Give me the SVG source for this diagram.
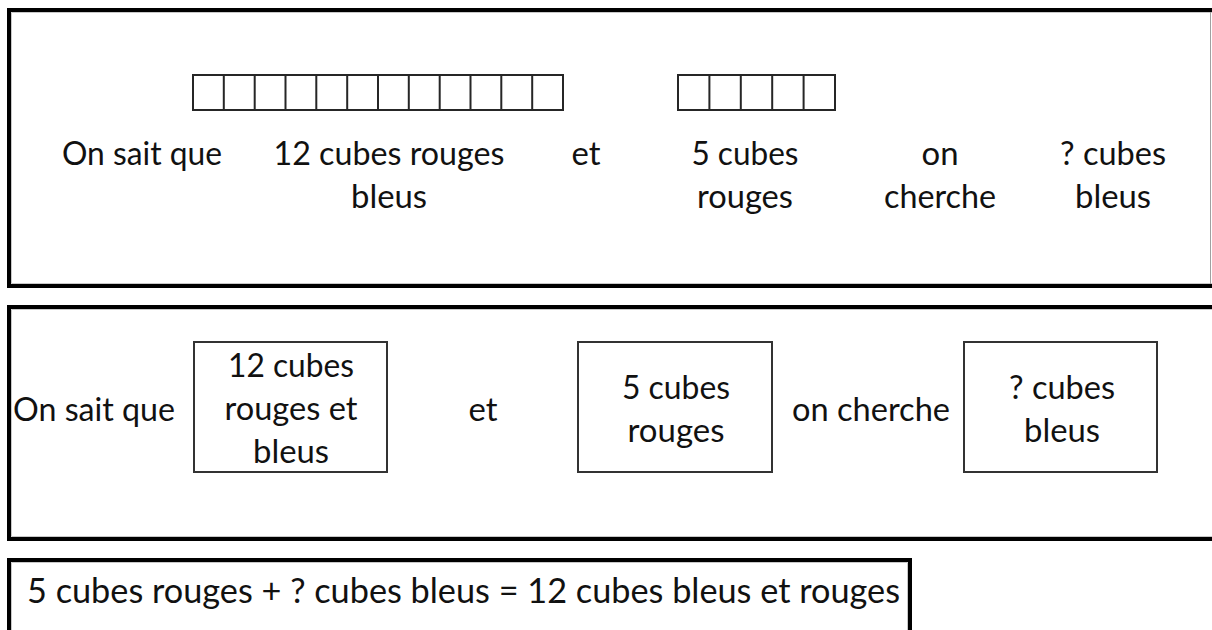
<svg xmlns="http://www.w3.org/2000/svg" width="1212" height="630" viewBox="0 0 1212 630">
  <style>
    .frame { fill: none; stroke: #000; stroke-width: 4; }
    .inner { fill: none; stroke: #c8c8c8; stroke-width: 1; }
    .cell { fill: #fff; stroke: #262626; stroke-width: 2; }
    .box { fill: #fff; stroke: #333; stroke-width: 2; }
    .t { font-family: Lato, "Open Sans", "Liberation Sans", sans-serif; font-size: 32px; fill: #111; }
    .big { font-size: 34px; }
    .m { text-anchor: middle; }
  </style>
  <rect width="1212" height="630" fill="#fff"/>

  <g id="panel1">
    <path class="frame" d="M1212 10 H9 V286 H1212"/>
    <path class="inner" d="M1212 12.5 H11.5 V283.5 H1212"/>
    <line x1="1210.5" y1="12" x2="1210.5" y2="284" stroke="#a0a0a0" stroke-width="1"/>
    <g id="bar12">
      <rect class="cell" x="193" y="75" width="370" height="35"/>
      <path class="cell" d="M223.8 75 V110 M254.7 75 V110 M285.5 75 V110 M316.3 75 V110 M347.2 75 V110 M378 75 V110 M408.8 75 V110 M439.7 75 V110 M470.5 75 V110 M501.3 75 V110 M532.2 75 V110"/>
    </g>
    <g id="bar5">
      <rect class="cell" x="678" y="75" width="157" height="35"/>
      <path class="cell" d="M709.4 75 V110 M740.8 75 V110 M772.2 75 V110 M803.6 75 V110"/>
    </g>
    <g id="p1-onsait"><text class="t" x="62" y="165" textLength="160" lengthAdjust="spacingAndGlyphs">On sait que</text></g>
    <g id="p1-12cubes">
      <text class="t m" x="389" y="165" textLength="231" lengthAdjust="spacingAndGlyphs">12 cubes rouges</text>
      <text class="t m" x="389" y="208" textLength="76" lengthAdjust="spacingAndGlyphs">bleus</text>
    </g>
    <g id="p1-et"><text class="t m" x="586" y="165" textLength="29" lengthAdjust="spacingAndGlyphs">et</text></g>
    <g id="p1-5cubes">
      <text class="t m" x="745" y="165" textLength="107" lengthAdjust="spacingAndGlyphs">5 cubes</text>
      <text class="t m" x="745" y="208" textLength="96" lengthAdjust="spacingAndGlyphs">rouges</text>
    </g>
    <g id="p1-oncherche">
      <text class="t m" x="940" y="165" textLength="37" lengthAdjust="spacingAndGlyphs">on</text>
      <text class="t m" x="940" y="208" textLength="112" lengthAdjust="spacingAndGlyphs">cherche</text>
    </g>
    <g id="p1-qcubes">
      <text class="t m" x="1113" y="165" textLength="106" lengthAdjust="spacingAndGlyphs">? cubes</text>
      <text class="t m" x="1113" y="208" textLength="76" lengthAdjust="spacingAndGlyphs">bleus</text>
    </g>
  </g>

  <g id="panel2">
    <path class="frame" d="M1212 307 H9 V539 H1212"/>
    <path class="inner" d="M1212 309.5 H11.5 V536.5 H1212"/>
    <g id="p2-onsait"><text class="t" x="13" y="421" textLength="162" lengthAdjust="spacingAndGlyphs">On sait que</text></g>
    <g id="p2-box12">
      <rect class="box" x="194" y="342" width="193" height="130"/>
      <text class="t m" x="291" y="377" textLength="126" lengthAdjust="spacingAndGlyphs">12 cubes</text>
      <text class="t m" x="291" y="420" textLength="133" lengthAdjust="spacingAndGlyphs">rouges et</text>
      <text class="t m" x="291" y="463" textLength="76" lengthAdjust="spacingAndGlyphs">bleus</text>
    </g>
    <g id="p2-et"><text class="t m" x="483" y="421" textLength="29" lengthAdjust="spacingAndGlyphs">et</text></g>
    <g id="p2-box5">
      <rect class="box" x="578" y="342" width="194" height="130"/>
      <text class="t m" x="676" y="399" textLength="108" lengthAdjust="spacingAndGlyphs">5 cubes</text>
      <text class="t m" x="676" y="442" textLength="97" lengthAdjust="spacingAndGlyphs">rouges</text>
    </g>
    <g id="p2-oncherche"><text class="t" x="792" y="421" textLength="158" lengthAdjust="spacingAndGlyphs">on cherche</text></g>
    <g id="p2-boxq">
      <rect class="box" x="964" y="342" width="193" height="130"/>
      <text class="t m" x="1062" y="399" textLength="106" lengthAdjust="spacingAndGlyphs">? cubes</text>
      <text class="t m" x="1062" y="442" textLength="76" lengthAdjust="spacingAndGlyphs">bleus</text>
    </g>
  </g>

  <g id="panel3">
    <path class="frame" d="M9 632 V560 H910 V632"/>
    <path class="inner" d="M11.5 632 V562.5 H907.5 V632"/>
    <text class="t big" x="27" y="603" textLength="873" lengthAdjust="spacingAndGlyphs">5 cubes rouges + ? cubes bleus = 12 cubes bleus et rouges</text>
  </g>
</svg>
